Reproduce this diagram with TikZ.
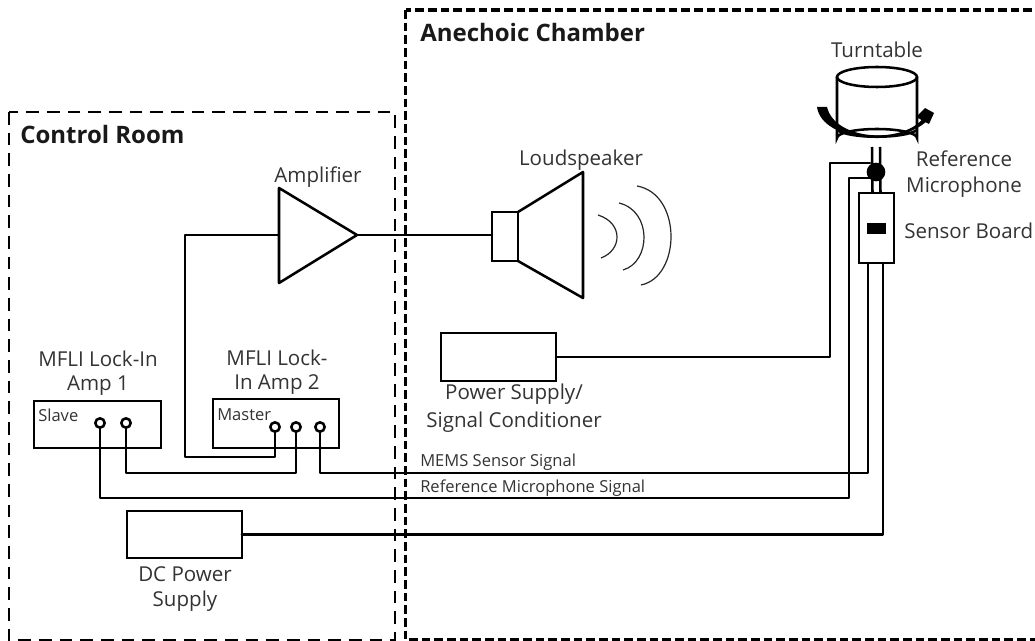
\documentclass[tikz,border=0pt]{standalone}
\usepackage{fontspec}
\setmainfont{Open Sans}
\usetikzlibrary{calc}

\begin{document}
\begin{tikzpicture}[x=0.75pt,y=-0.75pt,
  wire/.style={line width=1.9pt, line join=round, line cap=round},
  frameA/.style={line width=2.2pt, dash pattern=on 9.5pt off 6pt},
  frameB/.style={line width=2.3pt, dash pattern=on 6.5pt off 3pt},
  box/.style={draw, line width=1.9pt, inner sep=0pt, outer sep=0pt, fill=white},
  port/.style={circle, draw, line width=1.9pt, fill=white, inner sep=0pt, minimum size=7pt, outer sep=0pt},
  label/.style={font=\fontsize{15.4}{18}\selectfont, inner sep=0pt, text=black!80},
  small/.style={font=\fontsize{12.4}{14}\selectfont, inner sep=0pt, text=black!80, anchor=west},
  title/.style={font=\fontsize{18}{21}\selectfont\bfseries, inner sep=0pt, anchor=west, text=black!90}]

\useasboundingbox (0,0) rectangle (1035,641);

%─────────────
% Rooms
%─────────────
\draw[frameA] (9,112) rectangle (395,640);
\draw[frameB] (405.5,10) rectangle (1045,640);
\node[title] (controlLabel) at (20,135) {Control Room};
\node[title] (chamberLabel) at (420,33) {Anechoic Chamber};

%─────────────
% Boxes
%─────────────
\node[box, minimum width=95.25pt, minimum height=35.25pt] (amp1) at (97.5,424.5) {};
\node[box, minimum width=94.5pt, minimum height=36.75pt] (amp2) at (276,423.5) {};
\node[box, minimum width=86.25pt, minimum height=36pt] (power) at (498.5,357) {};
\node[box, minimum width=86.25pt, minimum height=35.25pt] (dc) at (184.5,534.5) {};
\node[box, minimum width=26.25pt, minimum height=52.5pt] (board) at (876.5,228) {};
\node[fill=black, inner sep=0pt, minimum width=14.25pt, minimum height=8.25pt] (chip) at (876.5,228.5) {};

% ports on the lock-in amps
\node[port] (slaveA) at (100,423) {};
\node[port] (slaveB) at (126,423) {};
\node[port] (masterA) at (275,427) {};
\node[port] (masterB) at (296,427) {};
\node[port] (masterC) at (320,427) {};

%─────────────
% Amplifier and loudspeaker
%─────────────
\coordinate (ampTop) at (279,188);
\coordinate (ampBot) at (279,283);
\coordinate (ampIn) at (279,235);
\coordinate (ampOut) at (357,235);
\draw[wire] (ampTop) -- (ampOut) -- (ampBot) -- cycle;
\node[box, minimum width=19.5pt, minimum height=36.75pt] (driver) at (505,236.5) {};
\draw[wire] (driver.north east) -- (583,172) -- (583,298) -- (driver.south east);
\draw[wire] (ampOut) -- (ampOut -| driver.west);

% sound waves
\foreach \xa/\ya/\xb/\xc/\yc in {598/215/617/601/258, 619/203/644/623/270, 637/186/671/641/285} {
  \draw[line width=0.9pt, black!85] (\xa,\ya) .. controls ({\xb+(\xb-\xa)/3},{\ya+8}) and ({\xb+(\xb-\xc)/3},{\yc-8}) .. (\xc,\yc);
}

%─────────────
% Turntable
%─────────────
\draw[line width=1.9pt] (837,77) -- (837,138) arc[start angle=180, end angle=360, x radius=40, y radius=9] -- (917,77);
\draw[line width=1.9pt] (877,77) ellipse[x radius=40, y radius=10];
\draw[line width=1.9pt, line cap=round] (837,130) .. controls (850,139) and (904,139) .. (917,130);
% rotation arrow, tapered towards its head
\fill (817,107) .. controls (822,142) and (900,148) .. (928,120) -- (925,116) .. controls (905,145) and (835,141) .. (827,107) -- cycle;
\fill (934,113) -- (925,108) -- (916,117) -- (929,124) -- cycle;

%─────────────
% Microphone and wiring
%─────────────
\coordinate (stemTop) at (876,147);
\draw[line width=1.9pt] ($(stemTop)+(-4,0)$) -- ($(board.north)+(-4,0)$);
\draw[line width=1.9pt] ($(stemTop)+(4,0)$) -- ($(board.north)+(4,0)$);
\node[circle, fill=black, inner sep=0pt, minimum size=14pt] (mic) at (876,172) {};

\coordinate (micIn) at (870,163);
\coordinate (micOut) at (870,178);
\coordinate (sigBoard) at (868,263);
\coordinate (dcBoard) at (883,263);

\draw[wire] (power.east) -| (830,163) -- (micIn);
\draw[wire] (dc.east) -| (dcBoard);
\draw[wire] (slaveA.south) |- (849,498) |- (micOut);
\draw[wire] (slaveB.south) |- (296,473) -- (masterB.south);
\draw[wire] (masterC.south) |- (868,473) -- (sigBoard);
\draw[wire] (masterA.south) |- (185,457) |- (ampIn);

%─────────────
% Labels
%─────────────
\node[label] (turnLabel) at (877,50) {Turntable};
\node[label] (refLabelA) at (964,159) {Reference};
\node[label] (refLabelB) at (964,187) {Microphone};
\node[label, anchor=west] (boardLabel) at (904,231) {Sensor Board};
\node[label] (speakerLabel) at (581,160) {Loudspeaker};
\node[label] (ampLabel) at (318,177) {Amplifier};
\node[label] (amp1LabelA) at (98,359) {MFLI Lock-In};
\node[label] (amp1LabelB) at (98,386) {Amp 1};
\node[label] (amp2LabelA) at (277,358) {MFLI Lock-};
\node[label] (amp2LabelB) at (277,385) {In Amp 2};
\node[label] (powerLabelA) at (514,394) {Power Supply/};
\node[label] (powerLabelB) at (514,422) {Signal Conditioner};
\node[label] (dcLabelA) at (185,574) {DC Power};
\node[label] (dcLabelB) at (185,601) {Supply};
\node[small] (slaveLabel) at (38,415) {Slave};
\node[small] (masterLabel) at (217,415) {Master};
\node[small] (memsLabel) at (420,462) {MEMS Sensor Signal};
\node[small] (refSigLabel) at (420,488) {Reference Microphone Signal};

\end{tikzpicture}
\end{document}
